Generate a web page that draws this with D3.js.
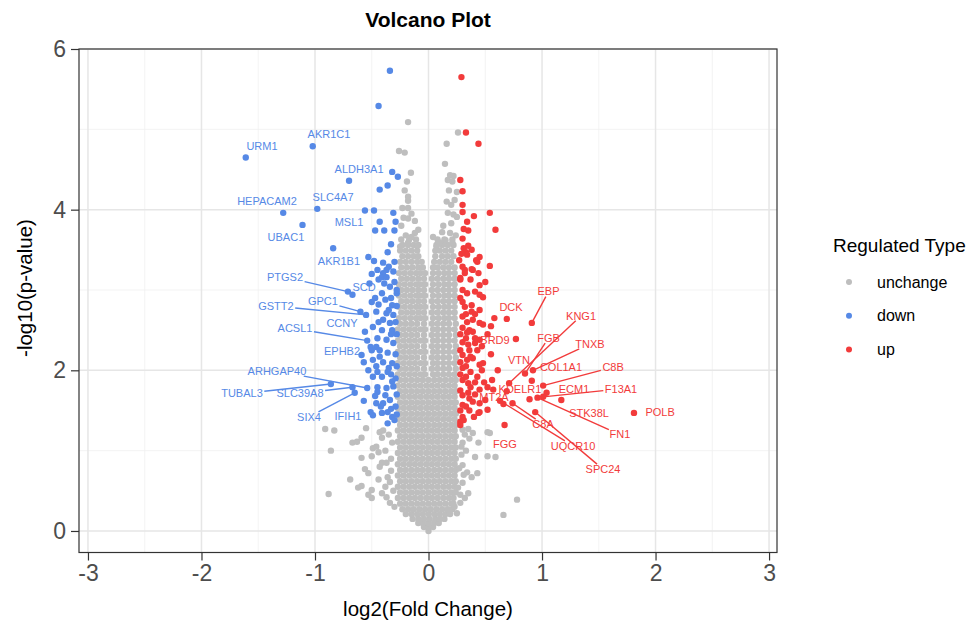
<!DOCTYPE html>
<html>
<head>
<meta charset="utf-8">
<script src="https://cdn.jsdelivr.net/npm/d3@7"></script>
<style>
body { margin: 0; background: #fff; }
svg { display: block; font-family: "Liberation Sans", Arial, Helvetica, sans-serif; }
</style>
</head>
<body>
<svg id="chart"></svg>
<script>
// ---- data (log2FC, -log10 p) ----
const xTicks = [-3, -2, -1, 0, 1, 2, 3];
const yTicks = [0, 2, 4, 6];
const types = ['unchange', 'down', 'up'];

// dense unchanged core: "y: x x x" in hundredths
const grayRows = [
  "0: 0", "5: -4 0 4", "10: -9 -5 0 5 9", "15: -14 -9 -4 1 6 10 14",
  "21: -20 -15 -10 -5 0 5 10 15 19", "27: -23 -18 -13 -8 -3 2 7 12 17 21",
  "34: -25 -20 -15 -10 -5 0 5 10 15 20 22", "41: -27 -22 -17 -12 -7 -2 3 8 13 18 22",
  "48: -25 -20 -15 -10 -5 0 5 10 15 20 24", "55: -27 -22 -17 -12 -7 -2 3 8 13 18 23",
  "62: -25 -20 -15 -10 -5 0 5 10 15 20 24", "69: -27 -22 -17 -12 -7 -2 3 8 13 18 23",
  "76: -25 -20 -15 -10 -5 0 5 10 15 20 24", "83: -27 -22 -17 -12 -7 -2 3 8 13 18 23",
  "90: -25 -20 -15 -10 -5 0 5 10 15 20 24", "97: -27 -22 -17 -12 -7 -2 3 8 13 18 23",
  "104: -25 -20 -15 -10 -5 0 5 10 15 20 24", "111: -27 -22 -17 -12 -7 -2 3 8 13 18 23",
  "118: -25 -20 -15 -10 -5 0 5 10 15 20 24", "125: -27 -22 -17 -12 -7 -2 3 8 13 18 23",
  "132: -25 -20 -15 -10 -5 0 5 10 15 20 24", "139: -27 -22 -17 -12 -7 -2 3 8 13 18 23",
  "146: -25 -20 -15 -10 -5 0 5 10 15 20 24", "153: -27 -22 -17 -12 -7 -2 3 8 13 18 23",
  "160: -25 -20 -15 -10 -5 0 5 10 15 20 24", "167: -27 -22 -17 -12 -7 -2 3 8 13 18 23",
  "174: -25 -20 -15 -10 -5 0 5 10 15 20 24", "181: -27 -22 -17 -12 -7 -2 3 8 13 18 23",
  "188: -25 -20 -15 -10 -5 0 5 10 15 20 24",
  "195: -27 -22 -17 -12 -7 -3 4 8 13 18 23", "202: -25 -20 -15 -10 -4 3 8 13 18 24",
  "209: -27 -22 -17 -12 -7 -3 4 8 13 18 23", "216: -25 -20 -15 -10 -4 3 8 13 18 24",
  "223: -27 -22 -17 -12 -7 -3 4 8 13 18 23", "230: -25 -20 -15 -10 -4 3 8 13 18 24",
  "237: -27 -22 -17 -12 -7 -3 4 8 13 18 23", "244: -25 -20 -15 -10 -4 3 8 13 18 24",
  "251: -27 -22 -17 -12 -7 -3 4 8 13 18 23", "258: -25 -20 -15 -10 -4 3 8 13 18 24",
  "265: -26 -21 -16 -11 -7 -3 4 9 14 18 23", "272: -24 -19 -14 -9 -4 3 8 13 18 23",
  "279: -26 -21 -16 -11 -7 -3 4 9 14 18 23", "286: -24 -19 -14 -9 -4 3 8 13 18 23",
  "293: -26 -21 -16 -11 -7 -3 4 9 14 18 23", "300: -24 -19 -14 -9 -4 3 8 13 18 23",
  "307: -26 -21 -16 -11 -7 -3 4 9 14 18 23", "314: -24 -19 -14 -9 -4 3 8 13 18 23",
  "321: -26 -21 -16 -11 -7 -3 4 9 14 18 23", "328: -24 -19 -14 -9 -5 4 8 13 18 23",
  "335: -25 -20 -15 -10 -6 5 10 15 20", "342: -23 -18 -13 -9 6 12 17 22",
  "349: -25 -20 -15 -10 6 10 15 20", "356: -23 -18 -13 -9 7 12 17 22",
  "363: -24 -17 -11 8 14 21"
];

const grayScatter = [
  [-0.91,1.27],[-0.83,1.25],[-0.86,1.00],[-0.69,0.64],[-0.88,0.46],[-0.67,1.10],[-0.63,1.11],
  [-0.59,1.16],[-0.55,1.28],[-0.59,0.91],[-0.56,0.77],[-0.53,0.72],[-0.44,0.64],[-0.62,0.54],
  [-0.59,0.56],[-0.50,0.51],[-0.53,0.45],[-0.50,0.41],[-0.41,0.47],[-0.37,0.42],[-0.43,1.23],
  [-0.41,1.16],[-0.49,1.03],[-0.44,0.98],[-0.50,0.93],[-0.41,0.85],[-0.36,0.67],[-0.34,0.61],
  [-0.40,1.25],[-0.46,1.05],[-0.43,0.80],[-0.31,0.50],[-0.33,0.90],[-0.32,1.10],[-0.35,1.20],
  [-0.38,0.55],[-0.30,0.30],[-0.33,0.75],[-0.38,1.00],[-0.34,0.35],[-0.37,0.85],
  [0.35,1.27],[0.39,1.22],[0.52,1.23],[0.54,1.22],[0.44,1.10],[0.41,0.92],[0.52,0.93],
  [0.59,0.92],[0.30,0.82],[0.34,0.73],[0.43,0.72],[0.38,0.67],[0.30,0.60],[0.26,0.54],
  [0.35,0.47],[0.32,0.41],[0.28,0.35],[0.78,0.39],[0.66,0.20],[0.25,0.22],[0.23,0.30],
  [0.30,1.26],[0.30,1.10],[0.29,0.95],[0.33,1.00],[0.31,0.70],[0.28,0.45],[0.27,0.78],
  [0.36,1.15],[0.32,1.20],[0.29,1.05],
  [-0.18,5.09],[0.26,4.96],[0.16,4.82],[-0.26,4.73],[-0.21,4.71],[0.145,4.57],[-0.155,4.46],
  [-0.19,4.35],[0.19,4.43],[0.22,4.42],[0.17,4.37],[0.21,4.35],[0.25,4.22],[-0.18,4.16],
  [-0.18,4.11],[-0.23,4.02],[-0.18,4.02],[0.16,4.10],[0.20,4.06],[-0.22,3.90],[-0.18,3.89],
  [-0.12,3.86],[0.17,3.96],[0.22,3.94],[0.25,3.91],[-0.09,3.75],[-0.12,3.71],[0.12,3.72],
  [0.19,3.71],[-0.25,3.54],[-0.18,3.59],[-0.10,3.55],[0.07,3.54],[0.10,3.59],[0.15,3.62],
  [0.21,3.59],[-0.20,3.68],[-0.15,3.66],[0.04,3.66],[0.24,3.68],[-0.24,3.80],[0.13,3.80],
  [0.20,3.83],[-0.15,3.95],[0.23,4.12],[-0.21,4.24],[0.18,4.24]
];

const downPts = [
  [-0.34,5.73],[-0.44,5.29],[-1.61,4.65],[-1.02,4.79],[-0.70,4.36],[-0.32,4.47],[-0.27,4.41],
  [-0.36,4.30],[-0.43,4.25],[-1.28,3.96],[-0.98,4.01],[-1.11,3.81],[-0.56,3.99],[-0.48,3.99],
  [-0.31,3.96],[-0.43,3.85],[-0.29,3.85],[-0.47,3.74],[-0.39,3.74],[-0.30,3.74],[-0.33,3.57],
  [-0.84,3.52],[-0.36,3.47],[-0.53,3.41],[-0.48,3.36],[-0.40,3.34],[-0.30,3.35],[-0.35,3.29],
  [-0.37,3.25],[-0.31,3.23],[-0.40,3.21],[-0.41,3.16],[-0.44,3.13],[-0.37,3.16],[-0.30,3.10],
  [-0.52,3.08],[-0.39,3.08],[-0.34,3.04],[-0.71,2.98],[-0.67,2.94],[-0.28,2.96],[-0.41,2.96],
  [-0.50,2.85],[-0.38,2.88],[-0.32,2.81],[-0.60,2.73],[-0.55,2.69],[-0.46,2.73],[-0.37,2.71],
  [-0.31,2.69],[-0.40,2.63],[-0.34,2.59],[-0.56,2.48],[-0.49,2.54],[-0.41,2.50],[-0.32,2.50],
  [-0.54,2.37],[-0.51,2.29],[-0.46,2.29],[-0.45,2.40],[-0.37,2.38],[-0.31,2.34],[-0.50,2.25],
  [-0.43,2.25],[-0.36,2.22],[-0.59,2.19],[-0.57,2.10],[-0.49,2.13],[-0.40,2.10],[-0.32,2.09],
  [-0.46,2.05],[-0.43,2.17],[-0.53,2.00],[-0.45,1.98],[-0.36,1.98],[-0.49,1.92],[-0.41,1.92],
  [-0.32,1.86],[-0.45,1.79],[-0.54,1.78],[-0.86,1.83],[-0.67,1.79],[-0.65,1.72],[-0.57,1.62],
  [-0.37,1.78],[-0.45,1.73],[-0.38,1.69],[-0.34,1.63],[-0.46,1.59],[-0.40,1.59],[-0.51,1.48],
  [-0.41,1.47],[-0.36,1.48],[-0.49,1.44],[-0.32,1.42],[-0.36,1.34],[-0.30,1.38],
  [-0.28,3.00],[-0.28,2.80],[-0.29,2.60],[-0.28,2.45],[-0.29,2.20],[-0.28,2.05],[-0.29,1.90],
  [-0.28,1.70],[-0.29,1.55],[-0.28,1.45],[-0.33,2.90],[-0.35,2.75],[-0.33,2.45],[-0.35,2.03],
  [-0.33,1.95],[-0.31,1.80],[-0.33,1.52],[-0.42,1.55],[-0.47,1.68],[-0.44,2.60],[-0.47,2.90],
  [-0.45,3.25],[-0.50,3.20],[-0.44,2.82]
];

const upPts = [
  [0.29,5.65],[0.33,4.96],[0.44,4.82],[0.28,4.37],[0.30,4.23],[0.30,4.06],[0.30,3.97],
  [0.40,3.92],[0.54,3.96],[0.34,3.85],[0.31,3.76],[0.35,3.74],[0.59,3.75],[0.30,3.64],
  [0.31,3.52],[0.33,3.47],[0.45,3.41],[0.43,3.35],[0.54,3.30],[0.27,3.37],[0.32,3.25],
  [0.39,3.25],[0.28,3.15],[0.34,3.44],[0.42,3.37],[0.30,3.29],[0.32,3.21],[0.38,3.26],
  [0.44,3.21],[0.28,3.13],[0.37,3.13],[0.45,3.06],[0.30,3.00],[0.34,2.96],[0.41,2.98],
  [0.48,2.91],[0.30,2.85],[0.32,2.79],[0.38,2.81],[0.45,2.75],[0.58,2.65],[0.30,2.67],
  [0.34,2.60],[0.39,2.63],[0.48,2.57],[0.30,2.53],[0.34,2.47],[0.39,2.48],[0.45,2.38],
  [0.30,2.35],[0.35,2.32],[0.43,2.25],[0.30,2.19],[0.34,2.13],[0.39,2.15],[0.48,2.09],
  [0.30,2.03],[0.37,1.98],[0.43,1.92],[0.30,1.88],[0.35,1.84],[0.52,1.79],
  [0.45,2.94],[0.69,2.64],[0.91,2.59],[0.38,2.73],[0.45,2.59],[0.77,2.39],[0.41,2.34],
  [0.55,2.20],[0.37,2.17],[0.45,2.07],[0.61,2.00],[0.85,1.96],[0.92,2.00],[0.91,1.87],
  [0.71,1.84],[0.56,1.88],[0.37,1.79],[0.45,1.76],[0.69,1.74],[1.01,1.81],[1.04,1.72],
  [0.89,1.64],[0.96,1.66],[1.01,1.67],[1.17,1.63],[0.66,1.58],[0.74,1.59],[0.39,1.61],
  [0.45,1.59],[0.30,1.69],[0.30,1.57],[0.52,1.51],[0.44,1.47],[0.94,1.48],[1.81,1.47],
  [0.67,1.32],[0.28,1.32],[0.35,1.72],[0.45,1.48],[0.50,1.63],[0.57,1.76],[0.30,1.42],
  [0.28,1.36],[0.63,1.62],
  [0.28,2.90],[0.28,2.45],[0.28,2.25],[0.28,2.10],[0.28,1.95],[0.28,1.75],[0.28,1.50],
  [0.33,2.70],[0.33,2.40],[0.33,2.05],[0.33,1.92],[0.33,1.55],[0.36,2.50],[0.36,2.25],
  [0.36,1.65],[0.41,2.40],[0.41,2.70],[0.41,1.85],[0.41,1.70],[0.47,2.30],[0.47,2.00],
  [0.49,1.85],[0.52,2.45],[0.55,2.55],[0.50,3.10],[0.35,3.55],[0.29,3.45],[0.38,3.50],
  [0.36,1.50],[0.40,1.42],[0.31,1.38]
];

// labelled genes: [name, log2FC, -log10 p, type]
const genes = [
  ['URM1',-1.61,4.65,'down'],['AKR1C1',-1.02,4.79,'down'],['ALDH3A1',-0.70,4.36,'down'],
  ['HEPACAM2',-1.28,3.96,'down'],['SLC4A7',-0.98,4.01,'down'],['UBAC1',-1.11,3.81,'down'],
  ['MSL1',-0.56,3.99,'down'],['AKR1B1',-0.84,3.52,'down'],['PTGS2',-0.71,2.98,'down'],
  ['SCD',-0.67,2.94,'down'],['GPC1',-0.60,2.73,'down'],['GSTT2',-0.55,2.69,'down'],
  ['CCNY',-0.56,2.48,'down'],['ACSL1',-0.54,2.37,'down'],['EPHB2',-0.57,2.10,'down'],
  ['ARHGAP40',-0.54,1.78,'down'],['TUBAL3',-0.86,1.83,'down'],['SLC39A8',-0.67,1.79,'down'],
  ['SIX4',-0.65,1.72,'down'],['IFIH1',-0.57,1.62,'down'],
  ['EBP',0.91,2.59,'up'],['DCK',0.69,2.64,'up'],['KNG1',0.71,1.84,'up'],['FGB',0.85,1.96,'up'],
  ['BRD9',0.77,2.39,'up'],['TNXB',0.92,2.00,'up'],['VTN',0.61,2.00,'up'],['COL1A1',0.91,1.87,'up'],
  ['C8B',1.01,1.81,'up'],['KDELR1',0.69,1.74,'up'],['ECM1',1.04,1.72,'up'],['F13A1',1.01,1.67,'up'],
  ['MT2A',0.66,1.58,'up'],['STK38L',1.17,1.63,'up'],['POLB',1.81,1.47,'up'],['C8A',0.74,1.59,'up'],
  ['FN1',0.96,1.66,'up'],['FGG',0.67,1.32,'up'],['UQCR10',0.63,1.62,'up'],['SPC24',0.94,1.48,'up']
];

// repelled label placement (data units) and which labels carry a segment
const labelAt = {
  URM1:[-1.467,4.79], AKR1C1:[-0.877,4.94], ALDH3A1:[-0.612,4.51], HEPACAM2:[-1.423,4.10],
  SLC4A7:[-0.841,4.15], UBAC1:[-1.256,3.66], MSL1:[-0.70,3.84], AKR1B1:[-0.789,3.36],
  PTGS2:[-1.264,3.16], SCD:[-0.568,3.03], GPC1:[-0.93,2.86], GSTT2:[-1.344,2.80],
  CCNY:[-0.762,2.59], ACSL1:[-1.176,2.52], EPHB2:[-0.762,2.24], ARHGAP40:[-1.335,1.99],
  TUBAL3:[-1.643,1.71], SLC39A8:[-1.132,1.71], SIX4:[-1.053,1.42], IFIH1:[-0.709,1.43],
  EBP:[1.057,2.98], DCK:[0.727,2.79], KNG1:[1.344,2.68], FGB:[1.057,2.40], BRD9:[0.586,2.37],
  TNXB:[1.423,2.33], VTN:[0.797,2.13], COL1A1:[1.167,2.04], C8B:[1.626,2.04], KDELR1:[0.806,1.76],
  ECM1:[1.282,1.77], F13A1:[1.696,1.77], MT2A:[0.577,1.66], STK38L:[1.414,1.47], POLB:[2.04,1.48],
  C8A:[1.009,1.33], FN1:[1.687,1.20], FGG:[0.674,1.08], UQCR10:[1.273,1.06], SPC24:[1.537,0.77]
};
const segGenes = ['PTGS2','GPC1','GSTT2','ACSL1','ARHGAP40','TUBAL3','SLC39A8','SIX4',
  'EBP','KNG1','FGB','TNXB','C8B','F13A1','C8A','FN1','UQCR10','SPC24'];

// ---- drawing ----
const width = 969, height = 631;
const color = d3.scaleOrdinal().domain(types).range(['#bebebe', '#5689e6', '#f23b3b']);

const svg = d3.select('#chart').attr('width', width).attr('height', height);

const xs = d3.scaleLinear().domain([-3.079, 3.07]).range([79, 777]);
const ys = d3.scaleLinear().domain([-0.268, 6.0]).range([552.5, 49]);

const grid = svg.append('g');
const minorX = [-2.5, -1.5, -0.5, 0.5, 1.5, 2.5], minorY = [1, 3, 5];
grid.selectAll('.mx').data(minorX).enter().append('line')
  .attr('x1', d => xs(d)).attr('x2', d => xs(d)).attr('y1', 49).attr('y2', 552.5)
  .attr('stroke', '#f0f0f0').attr('stroke-width', 0.8);
grid.selectAll('.my').data(minorY).enter().append('line')
  .attr('y1', d => ys(d)).attr('y2', d => ys(d)).attr('x1', 79).attr('x2', 777)
  .attr('stroke', '#f0f0f0').attr('stroke-width', 0.8);
grid.selectAll('.gx').data(xTicks).enter().append('line')
  .attr('x1', d => xs(d)).attr('x2', d => xs(d)).attr('y1', 49).attr('y2', 552.5)
  .attr('stroke', '#e6e6e6').attr('stroke-width', 1.5);
grid.selectAll('.gy').data(yTicks).enter().append('line')
  .attr('y1', d => ys(d)).attr('y2', d => ys(d)).attr('x1', 79).attr('x2', 777)
  .attr('stroke', '#e6e6e6').attr('stroke-width', 1.5);

// points
const grayPts = [];
grayRows.forEach(r => {
  const parts = r.split(':');
  const yv = +parts[0] / 100;
  parts[1].trim().split(/\s+/).forEach(v => grayPts.push([+v / 100, yv]));
});
grayScatter.forEach(p => grayPts.push(p));

const R = 3.2;
const pts = svg.append('g');
pts.selectAll('.g').data(grayPts).enter().append('circle')
  .attr('cx', d => xs(d[0])).attr('cy', d => ys(d[1])).attr('r', R).attr('fill', color('unchange'));
pts.selectAll('.b').data(downPts).enter().append('circle')
  .attr('cx', d => xs(d[0])).attr('cy', d => ys(d[1])).attr('r', R).attr('fill', color('down'));
pts.selectAll('.r').data(upPts).enter().append('circle')
  .attr('cx', d => xs(d[0])).attr('cy', d => ys(d[1])).attr('r', R).attr('fill', color('up'));

// labels with segments
const lab = svg.append('g');
genes.forEach(g => {
  const pos = labelAt[g[0]];
  const cx = xs(pos[0]), cy = ys(pos[1]);
  const t = lab.append('text')
    .attr('x', cx).attr('y', cy).attr('dy', '0.35em')
    .attr('text-anchor', 'middle')
    .attr('font-size', 11)
    .attr('fill', color(g[3]))
    .text(g[0]);
  if (segGenes.includes(g[0])) {
    const bb = t.node().getBBox();
    const hw = bb.width / 2 + 1.5, hh = bb.height / 2 - 1;
    const px = xs(g[1]), py = ys(g[2]);
    const dx = px - cx, dy = py - cy;
    const k = Math.min(dx === 0 ? Infinity : Math.abs(hw / dx), dy === 0 ? Infinity : Math.abs(hh / dy));
    if (k < 1) {
      lab.append('line')
        .attr('x1', cx + dx * k).attr('y1', cy + dy * k)
        .attr('x2', px).attr('y2', py)
        .attr('stroke', color(g[3])).attr('stroke-width', 1.4);
    }
  }
});

// panel border + axes
svg.append('rect').attr('x', 79).attr('y', 49).attr('width', 698).attr('height', 503.5)
  .attr('fill', 'none').attr('stroke', '#333').attr('stroke-width', 1.2);

const xAxis = svg.append('g').attr('transform', 'translate(0,552.5)')
  .call(d3.axisBottom(xs).tickValues(xTicks).tickSize(8).tickPadding(4).tickFormat(d3.format('d')));
const yAxis = svg.append('g').attr('transform', 'translate(79,0)')
  .call(d3.axisLeft(ys).tickValues(yTicks).tickSize(8).tickPadding(5).tickFormat(d3.format('d')));
[xAxis, yAxis].forEach(a => {
  a.select('.domain').remove();
  a.selectAll('line').attr('stroke', '#333').attr('stroke-width', 1.2);
  a.selectAll('text').attr('fill', '#4d4d4d').attr('font-size', 23)
    .attr('font-family', '"Liberation Sans", Arial, sans-serif');
});
xAxis.selectAll('text').text(d => d < 0 ? '-' + Math.abs(d) : d);

// titles
svg.append('text').attr('x', 428).attr('y', 27).attr('text-anchor', 'middle')
  .attr('font-size', 21).attr('font-weight', 'bold').text('Volcano Plot');
svg.append('text').attr('x', 428).attr('y', 616).attr('text-anchor', 'middle')
  .attr('font-size', 20.5).text('log2(Fold Change)');
svg.append('text').attr('transform', 'translate(32,288) rotate(-90)').attr('text-anchor', 'middle')
  .attr('font-size', 20.5).text('-log10(p-value)');

// legend
const legend = svg.append('g');
legend.append('text').attr('x', 833).attr('y', 252).attr('font-size', 19).text('Regulated Type');
const items = legend.selectAll('.item').data(types).enter().append('g')
  .attr('transform', (d, i) => `translate(849,${282 + i * 33.8})`);
items.append('circle').attr('r', 3).attr('fill', d => color(d));
items.append('text').attr('x', 28).attr('dy', '0.35em').attr('font-size', 16).text(d => d);
</script>
</body>
</html>
